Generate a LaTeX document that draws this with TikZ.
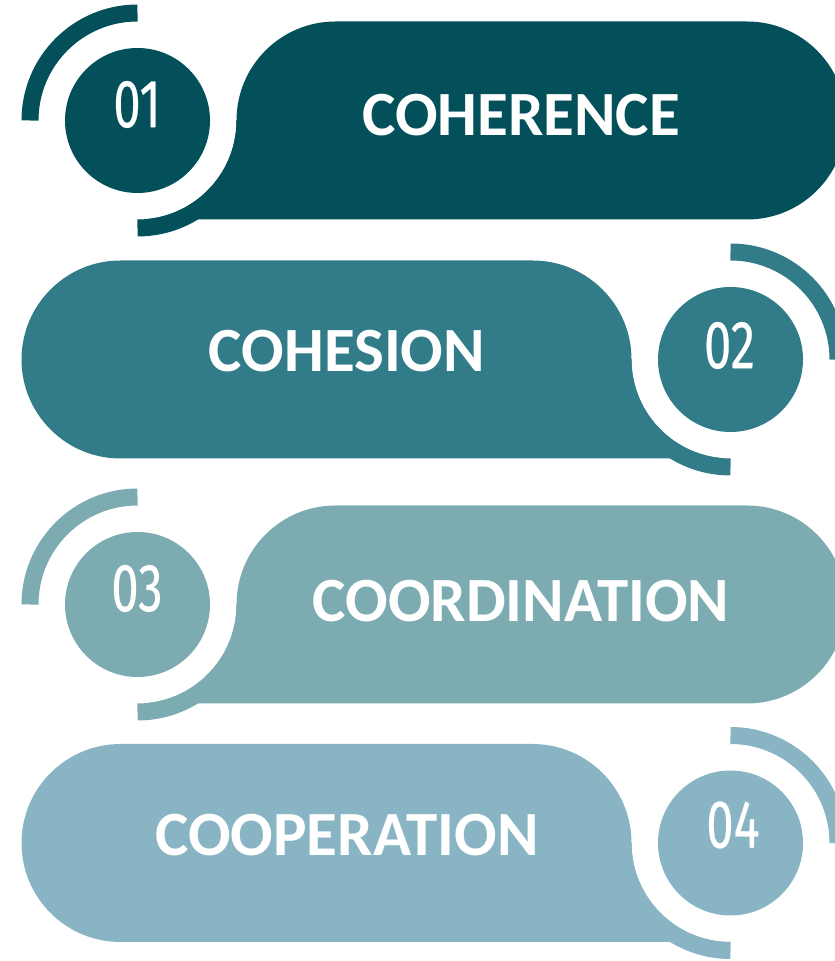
\documentclass[tikz,border=0pt]{standalone}
\usepackage{fontspec}
\setmainfont{Carlito}
\newfontfamily\digitfont[FakeStretch=0.72,FakeBold=0.3]{Fira Sans}
\definecolor{tealA}{HTML}{03505A}
\definecolor{tealB}{HTML}{327B89}
\definecolor{tealC}{HTML}{7CACB1}
\definecolor{tealD}{HTML}{88B4C3}
\begin{document}
\begin{tikzpicture}[x=1pt,y=1pt,
  blocktitle/.style={text=white,inner sep=0pt,font=\fontsize{63}{63}\selectfont\bfseries},
  blocknum/.style={text=white,inner sep=0pt,font=\digitfont\fontsize{68}{68}\selectfont},
  ring/.style={line width=17pt}]
\useasboundingbox (0,0) rectangle (835,961);

% 01 and 03: number on the left
\foreach \cy/\col/\n/\ny/\txt/\ty in {840.5/tealA/01/856.5/COHERENCE/846,
                                      356.5/tealC/03/372.5/COORDINATION/359.5} {
  \fill[\col] (137.5,\cy-99) -- (747,\cy-99) arc[start angle=-90,end angle=90,radius=99]
      -- (335.5,\cy+99) arc[start angle=90,end angle=180,radius=99]
      arc[start angle=0,end angle=-90,radius=99] -- cycle;
  \draw[ring,\col] (137.5,\cy+107.5) arc[start angle=90,end angle=180,radius=107.5];
  \draw[ring,\col] (137.5,\cy-107.5) arc[start angle=270,end angle=360,radius=107.5];
  \fill[\col] (137.5,\cy) circle[radius=72.5];
  \node[blocknum] (num\n) at (137,\ny) {\n};
  \node[blocktitle] (title\n) at (521,\ty) {\txt};
}

% 02 and 04: number on the right
\foreach \cy/\col/\n/\nx/\ny/\txt/\ty in {601.5/tealB/02/729.5/615.5/COHESION/609.5,
                                          118/tealD/04/733/136/COOPERATION/125.5} {
  \fill[\col] (120.5,\cy-99) arc[start angle=270,end angle=90,radius=99]
      -- (532.5,\cy+99) arc[start angle=90,end angle=0,radius=99]
      arc[start angle=180,end angle=270,radius=99] -- cycle;
  \draw[ring,\col] (730.5,\cy+107.5) arc[start angle=90,end angle=0,radius=107.5];
  \draw[ring,\col] (730.5,\cy-107.5) arc[start angle=270,end angle=180,radius=107.5];
  \fill[\col] (730.5,\cy) circle[radius=72.5];
  \node[blocknum] (num\n) at (\nx,\ny) {\n};
  \node[blocktitle] (title\n) at (347,\ty) {\txt};
}
\end{tikzpicture}
\end{document}
